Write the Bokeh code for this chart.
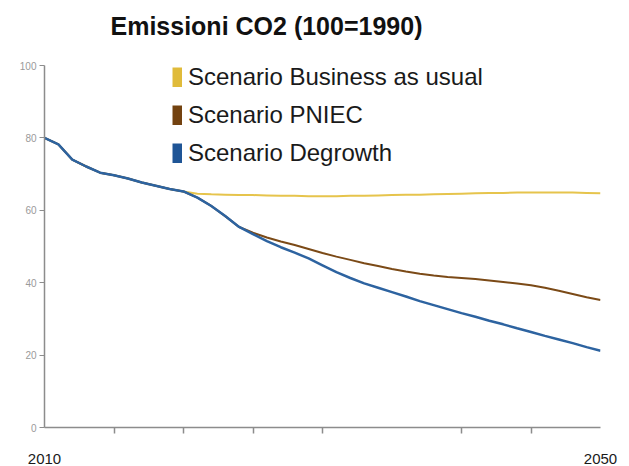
from bokeh.plotting import figure
from bokeh.models import FixedTicker, Legend, LegendItem, Range1d, ColumnDataSource, Title
from bokeh.embed import file_html
from bokeh.resources import INLINE

years = list(range(2010, 2051))
series_names = ["Scenario Business as usual", "Scenario PNIEC", "Scenario Degrowth"]
series_colors = ["#e6c44c", "#7b4a17", "#2d63a0"]
swatch_colors = ["#e0bb3a", "#734210", "#1f5596"]
title_text = "Emissioni CO2 (100=1990)"

history = [80.0, 78.2, 74.0, 72.1, 70.4, 69.7, 68.8, 67.7, 66.8, 65.9, 65.2]  # 2010-2020

bau = history + [64.6, 64.4, 64.3, 64.2, 64.2, 64.1, 64.0, 64.0, 63.9, 63.9,
                 63.9, 64.0, 64.0, 64.1, 64.2, 64.3, 64.3, 64.4, 64.5, 64.6,
                 64.7, 64.8, 64.8, 64.9, 64.9, 64.9, 64.9, 64.9, 64.8, 64.7]

degrowth = history + [63.5, 61.2, 58.4, 55.4, 53.4, 51.5, 49.8, 48.3, 46.7, 44.8,
                      42.9, 41.3, 39.8, 38.6, 37.4, 36.2, 34.9, 33.8, 32.7, 31.6,
                      30.6, 29.5, 28.5, 27.4, 26.4, 25.3, 24.3, 23.3, 22.2, 21.2]

pniec = degrowth[:15] + [53.8, 52.5, 51.4, 50.4, 49.3, 48.2,
                         47.2, 46.3, 45.4, 44.6, 43.8, 43.1, 42.5, 42.0, 41.6, 41.3,
                         41.0, 40.6, 40.2, 39.8, 39.3, 38.6, 37.8, 36.9, 36.0, 35.2]

y_ticks = [0, 20, 40, 60, 80, 100]
x_labeled = [2010, 2050]
x_minor = [2015, 2020, 2025, 2030, 2040, 2045]

p = figure(width=629, height=466, output_backend="svg", toolbar_location=None,
           x_range=Range1d(2010, 2050), y_range=Range1d(0, 100),
           min_border_left=44, min_border_right=29, min_border_top=65, min_border_bottom=36)

p.title.text = title_text
p.title.text_font = "Liberation Sans"
p.title.text_font_size = "25px"
p.title.text_font_style = "bold"
p.title.text_color = "#111111"
p.title.align = "left"
p.title.offset = 66
p.title.vertical_align = "bottom"
p.title.standoff = 2

# blank spacer between title and plot frame
p.add_layout(Title(text=" ", text_font_size="1px", standoff=22), "above")

p.outline_line_color = None
p.xgrid.visible = False
p.ygrid.visible = False
p.background_fill_color = "white"
p.border_fill_color = "white"

src = ColumnDataSource(dict(year=years, bau=bau, pniec=pniec, degrowth=degrowth))
r_bau = p.line("year", "bau", source=src, line_color=series_colors[0], line_width=2)
r_pn = p.line("year", "pniec", source=src, line_color=series_colors[1], line_width=2)
r_dg = p.line("year", "degrowth", source=src, line_color=series_colors[2], line_width=2.5)

# legend swatches: renderers with no drawable point (NaN), used only for the legend glyph
nan = float("nan")
sw = [p.line(x=[years[0]], y=[nan], line_color=c, line_width=20, line_cap="butt")
      for c in swatch_colors]
legend = Legend(items=[LegendItem(label=n, renderers=[r]) for n, r in zip(series_names, sw)],
                location=(128, 260), orientation="vertical",
                glyph_width=10, glyph_height=20, label_standoff=6,
                label_text_font="Liberation Sans", label_text_font_size="24px",
                label_text_color="#1a1a1a", label_height=24, spacing=10,
                padding=0, margin=0, border_line_color=None, background_fill_alpha=0)
p.add_layout(legend, "center")

# y axis
p.yaxis.ticker = FixedTicker(ticks=y_ticks)
p.yaxis.axis_line_color = "#8c8c8c"
p.yaxis.axis_line_width = 1.5
p.yaxis.major_tick_line_color = "#8c8c8c"
p.yaxis.major_tick_out = 5
p.yaxis.major_tick_in = 0
p.yaxis.minor_tick_line_color = None
p.yaxis.major_label_text_font_size = "10px"
p.yaxis.major_label_text_color = "#9a9a9a"
p.yaxis.major_label_standoff = 3

# x axis
p.xaxis.ticker = FixedTicker(ticks=x_labeled, minor_ticks=x_minor)
p.xaxis.axis_line_color = "#8c8c8c"
p.xaxis.axis_line_width = 1.5
p.xaxis.major_tick_out = 0
p.xaxis.major_tick_in = 0
p.xaxis.minor_tick_line_color = "#8c8c8c"
p.xaxis.minor_tick_line_width = 1.5
p.xaxis.minor_tick_out = 6
p.xaxis.minor_tick_in = 0
p.xaxis.major_label_text_font = "Liberation Sans"
p.xaxis.major_label_text_font_size = "15px"
p.xaxis.major_label_text_color = "#1a1a1a"
p.xaxis.major_label_standoff = 20

open("out.html", "w").write(file_html(p, INLINE))
